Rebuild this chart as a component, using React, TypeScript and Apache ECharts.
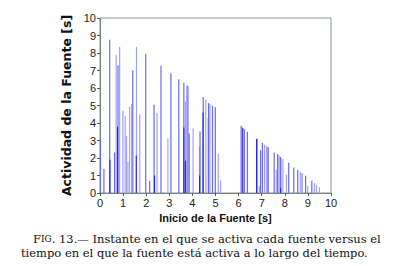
import React, { useEffect, useRef } from "react";
import * as echarts from "echarts";

// Inicio de la fuente [s] and actividad [s], grouped by stroke shade
const lightX = [0.70, 0.85, 0.99, 1.09, 1.15, 1.21, 1.28, 1.37, 1.58, 1.72, 2.47, 2.94, 3.70, 3.82, 4.03, 4.31, 4.58, 4.68, 4.76, 5.12, 5.22, 6.15, 6.81, 6.90, 7.12, 7.20, 7.29, 7.63, 7.75, 7.84, 7.92, 8.07, 8.67, 8.74, 8.76, 8.99, 9.28, 9.37, 9.50];
const lightY = [7.90, 8.35, 4.70, 4.42, 3.25, 1.78, 4.93, 5.08, 8.35, 4.48, 4.58, 3.12, 5.22, 6.10, 3.70, 2.64, 5.33, 4.28, 5.08, 2.23, 0.72, 3.78, 3.08, 0.38, 2.76, 2.70, 2.58, 1.33, 2.15, 2.02, 1.95, 1.05, 1.22, 1.14, 1.10, 0.38, 0.57, 0.47, 0.34];
const mediumX = [0.02, 0.17, 0.42, 0.63, 0.78, 1.42, 1.98, 2.15, 2.34, 2.64, 3.07, 3.41, 3.63, 3.77, 3.86, 4.33, 4.47, 4.70, 4.87, 4.99, 6.11, 6.25, 6.38, 6.95, 7.03, 7.27, 7.54, 7.69, 7.81, 8.17, 8.39, 8.56, 8.90, 9.17];
const mediumY = [3.05, 1.39, 8.76, 2.32, 7.30, 7.00, 7.95, 0.68, 5.04, 7.27, 6.84, 6.50, 6.30, 6.15, 3.40, 3.52, 5.48, 5.14, 4.99, 4.91, 3.85, 3.64, 3.50, 2.44, 2.87, 2.63, 2.32, 2.23, 2.06, 1.73, 1.46, 1.31, 0.99, 0.70];
const darkX = [0.43, 0.76, 1.57, 2.36, 3.63, 3.70, 4.31, 4.46, 6.18, 6.78, 7.82];
const darkY = [1.90, 3.80, 2.15, 1.00, 3.75, 1.85, 1.00, 4.60, 3.71, 3.10, 0.30];

const xTicks = [0, 1, 2, 3, 4, 5, 6, 7, 8, 9, 10];
const yTicks = [0, 1, 2, 3, 4, 5, 6, 7, 8, 9, 10];

const pairs = (xs: number[], ys: number[]) => xs.map((x, i) => [x, ys[i]]);

export default function App() {
  const ref = useRef<HTMLDivElement>(null);
  useEffect(() => {
    if (!ref.current) return;
    const chart = echarts.init(ref.current, null, { renderer: "svg" });
    const tickFont = { fontFamily: "'Liberation Sans Narrow', 'Arial Narrow', 'Liberation Sans', sans-serif", fontSize: 11, color: "#222" };
    const serif = "'DejaVu Serif', serif";
    const barBase = { type: "bar" as const, barWidth: 1.2, barGap: "-100%", silent: true };
    chart.setOption({
      animation: false,
      grid: { left: 100, right: 72, top: 18, bottom: 73, show: true, borderColor: "#8a968a", borderWidth: 1, backgroundColor: "transparent" },
      xAxis: {
        type: "value", min: xTicks[0], max: xTicks[xTicks.length - 1], interval: 1,
        name: "Inicio de la Fuente [s]", nameLocation: "middle", nameGap: 17,
        nameTextStyle: { fontFamily: "'Liberation Sans', Arial, sans-serif", fontWeight: "bold", fontSize: 11, color: "#111" },
        axisLine: { show: true, lineStyle: { color: "#7a857a", width: 1 } },
        axisTick: { show: true, length: 3, lineStyle: { color: "#555" } },
        axisLabel: { ...tickFont, margin: 4 },
        splitLine: { show: false },
      },
      yAxis: {
        type: "value", min: yTicks[0], max: yTicks[yTicks.length - 1], interval: 1,
        name: "Actividad de la Fuente [s]", nameLocation: "middle", nameGap: 17,
        nameTextStyle: { fontFamily: "'DejaVu Sans', sans-serif", fontWeight: "bold", fontSize: 12.5, color: "#111" },
        axisLine: { show: true, lineStyle: { color: "#7a857a", width: 1 } },
        axisTick: { show: true, length: 3, lineStyle: { color: "#555" } },
        axisLabel: { ...tickFont, margin: 4 },
        splitLine: { show: false },
      },
      series: [
        { ...barBase, name: "light", data: pairs(lightX, lightY), itemStyle: { color: "#a3a3f7" } },
        { ...barBase, name: "medium", data: pairs(mediumX, mediumY), itemStyle: { color: "#6a6af0" } },
        { ...barBase, name: "dark", data: pairs(darkX, darkY), itemStyle: { color: "#2a2ae6" } },
      ],
      graphic: [
        {
          type: "text", left: 33, top: 233,
          style: {
            text: "{big|F}{sc|IG}{n|. 13.— Instante en el que se activa cada fuente versus el}",
            rich: {
              big: { fontFamily: serif, fontSize: 11.5, fill: "#111" },
              sc: { fontFamily: serif, fontSize: 9, fill: "#111" },
              n: { fontFamily: serif, fontSize: 11.5, fill: "#111" },
            },
          },
        },
        {
          type: "text", left: 21, top: 247,
          style: {
            text: "tiempo en el que la fuente está activa a lo largo del tiempo.",
            fontFamily: serif, fontSize: 11.5, fill: "#111",
          },
        },
      ],
    });
    return () => chart.dispose();
  }, []);
  return <div ref={ref} style={{ position: "fixed", left: 0, top: 0, width: 403, height: 266, background: "#fff" }} />;
}
